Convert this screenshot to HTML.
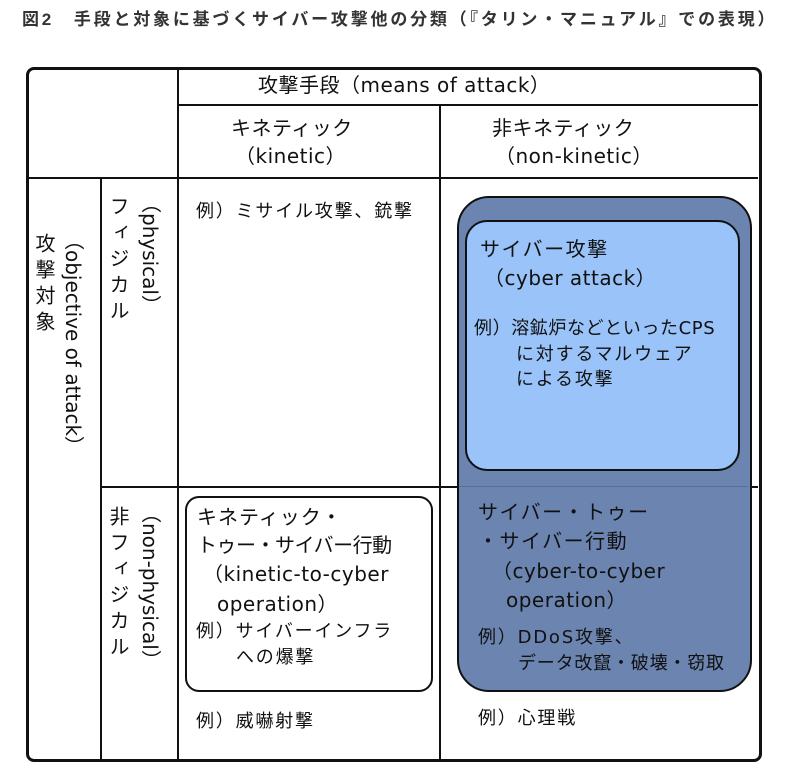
<!DOCTYPE html>
<html><head><meta charset="utf-8"><style>
body{margin:0;background:#fff;width:789px;height:775px;overflow:hidden;position:relative;font-family:"DejaVu Sans","Liberation Sans","Noto Sans CJK JP",sans-serif;color:#111}
.a{position:absolute}
.t{font-size:20px;line-height:28px;white-space:nowrap;letter-spacing:0.5px}
.s{font-size:18px;line-height:25px;white-space:nowrap;letter-spacing:1.8px}
.v{writing-mode:vertical-rl;font-size:20px;white-space:nowrap;line-height:24px}
.hl{position:absolute;height:2px;background:#111}
.vl{position:absolute;width:2px;background:#111}
</style></head><body>
<div class="a" style="left:22px;top:5px;font-size:17px;letter-spacing:2.8px;font-weight:bold;color:#333;font-family:'Liberation Sans','Noto Sans CJK JP',sans-serif;white-space:nowrap">図2　手段と対象に基づくサイバー攻撃他の分類（『タリン・マニュアル』での表現）</div>
<div class="a" style="left:26px;top:67px;width:730px;height:689px;border:3px solid #111;border-radius:8px"></div>
<div class="vl" style="left:177px;top:69px;height:690px"></div>
<div class="hl" style="left:178px;top:104px;width:580px"></div>
<div class="hl" style="left:28px;top:177px;width:730px"></div>
<div class="vl" style="left:439px;top:105px;height:654px"></div>
<div class="vl" style="left:100px;top:178px;height:581px"></div>
<div class="hl" style="left:101px;top:486px;width:657px"></div>

<div class="a t" style="left:258px;top:71px">攻撃手段（means of attack）</div>
<div class="a t" style="left:231px;top:114px">キネティック</div>
<div class="a t" style="left:235px;top:142px">（kinetic）</div>
<div class="a t" style="left:492px;top:114px">非キネティック</div>
<div class="a t" style="left:495px;top:142px">（non-kinetic）</div>

<div class="a v" style="left:32px;top:233px;letter-spacing:6px">攻撃対象</div>
<div class="a v" style="left:61px;top:230px">（objective of attack）</div>
<div class="a v" style="left:106px;top:196px;letter-spacing:6px">フィジカル</div>
<div class="a v" style="left:138px;top:193px">（physical）</div>
<div class="a v" style="left:106px;top:506px;letter-spacing:6px">非フィジカル</div>
<div class="a v" style="left:138px;top:503px">（non-physical）</div>

<div class="a s" style="left:196px;top:199px">例）ミサイル攻撃、銃撃</div>

<div class="a" style="left:457px;top:196px;width:291px;height:492px;background:#6b84b0;border:2px solid #111;border-radius:32px"></div>
<div class="hl" style="left:459px;top:486px;width:289px;background:#5a6e92;height:1px"></div>
<div class="a" style="left:465px;top:220px;width:271px;height:247px;background:#99c3f9;border:2px solid #111;border-radius:22px"></div>
<div class="a t" style="left:480px;top:235px;letter-spacing:1.5px">サイバー攻撃</div>
<div class="a t" style="left:484px;top:264px">（cyber attack）</div>
<div class="a s" style="left:474px;top:316px;letter-spacing:0.6px">例）溶鉱炉などといったCPS</div>
<div class="a s" style="left:516px;top:342px">に対するマルウェア</div>
<div class="a s" style="left:516px;top:367px">による攻撃</div>
<div class="a t" style="left:478px;top:498px;letter-spacing:1.5px">サイバー・トゥー</div>
<div class="a t" style="left:478px;top:527px;letter-spacing:1.5px">・サイバー行動</div>
<div class="a t" style="left:492px;top:557px">（cyber-to-cyber</div>
<div class="a t" style="left:506px;top:586px">operation）</div>
<div class="a s" style="left:478px;top:625px">例）DDoS攻撃、</div>
<div class="a s" style="left:518px;top:651px;letter-spacing:0.8px">データ改竄・破壊・窃取</div>

<div class="a" style="left:185px;top:496px;width:244px;height:192px;border:2px solid #111;border-radius:14px"></div>
<div class="a t" style="left:197px;top:503px;letter-spacing:1px">キネティック・</div>
<div class="a t" style="left:197px;top:531px;letter-spacing:-0.5px">トゥー・サイバー行動</div>
<div class="a t" style="left:203px;top:560px">（kinetic-to-cyber</div>
<div class="a t" style="left:217px;top:590px">operation）</div>
<div class="a s" style="left:196px;top:619px">例）サイバーインフラ</div>
<div class="a s" style="left:236px;top:645px">への爆撃</div>

<div class="a s" style="left:196px;top:709px">例）威嚇射撃</div>
<div class="a s" style="left:478px;top:706px">例）心理戦</div>
</body></html>
